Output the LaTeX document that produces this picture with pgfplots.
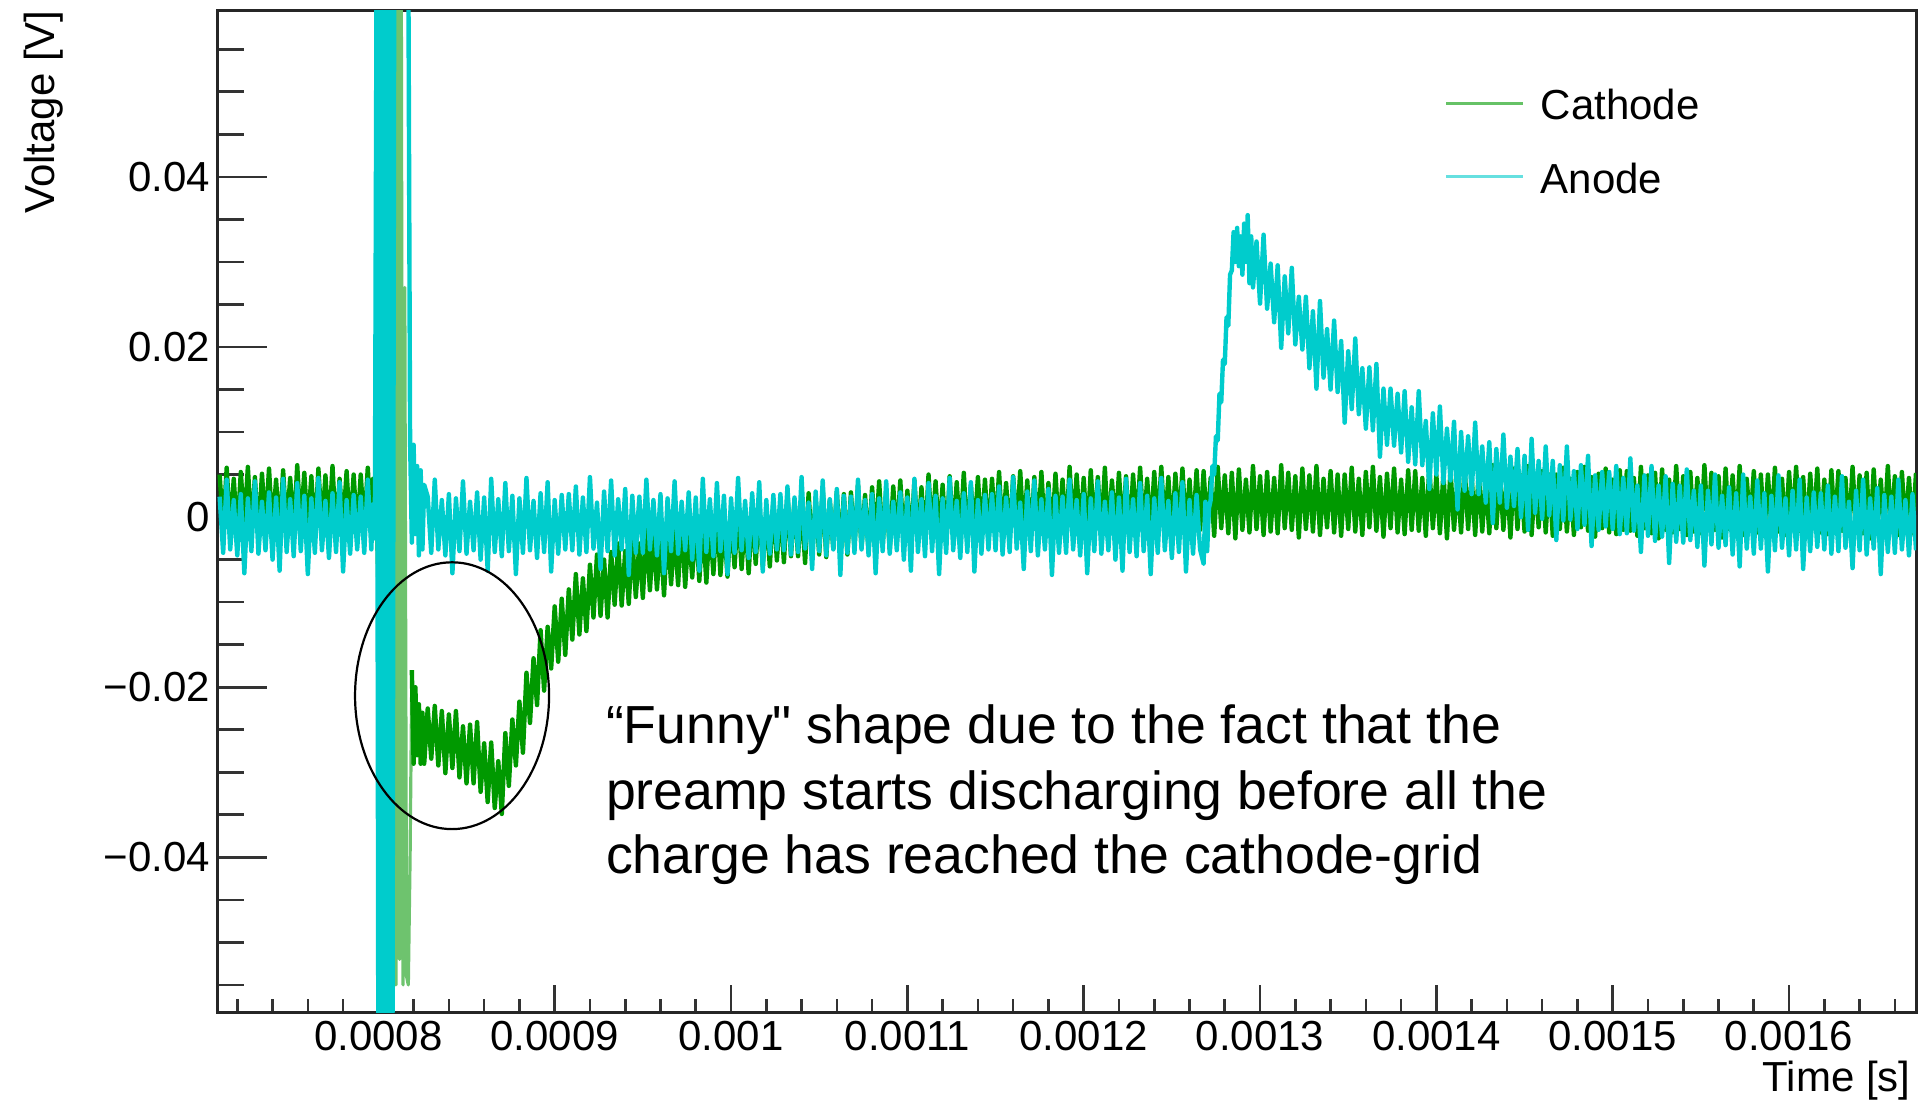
\documentclass[border=0pt]{standalone}
\usepackage{fontspec}
\setmainfont{Liberation Sans}
\newfontfamily\annfam{Liberation Sans}
\usepackage{pgfplots}
\pgfplotsset{compat=1.18}
\definecolor{cath}{RGB}{0,153,0}
\definecolor{cathL}{RGB}{110,195,110}
\definecolor{anod}{RGB}{0,204,204}
\newcommand{\tickfont}{\fontsize{21}{25}\selectfont}
\newcommand{\annfont}{\annfam\fontsize{26.8}{32}\selectfont}
\begin{document}
\begin{tikzpicture}
% y ticks axis (drawn first, below data)
\begin{axis}[scale only axis, width=849.5pt, height=501pt,
  xmin=708.5, xmax=1672, ymin=-58.3, ymax=59.5,
  axis line style={draw=none},
  tick align=inside, tick pos=left,
  xtick=\empty,
  ytick={-40,-20,0,20,40},
  yticklabels={−0.04,−0.02,0,0.02,0.04},
  minor ytick={-55,-50,...,55},
  major tick length=25pt, minor tick length=13.5pt,
  tick style={line width=1.3pt, black!80},
  yticklabel style={font=\tickfont},
]
\end{axis}
\begin{axis}[name=ax, scale only axis, width=849.5pt, height=501pt,
  xmin=708.5, xmax=1672, ymin=-58.3, ymax=59.5,
  axis line style={line width=1.5pt, black!85},
  tick align=inside, tick pos=left,
  xtick={800,900,...,1600},
  xticklabels={0.0008,0.0009,0.001,0.0011,0.0012,0.0013,0.0014,0.0015,0.0016},
  minor xtick={720,740,...,1660},
  ytick=\empty,
  major tick length=14pt, minor tick length=7pt,
  tick style={line width=1.3pt, black!80},
  xticklabel style={font=\tickfont, yshift=-0.5pt},
  legend style={draw=none, fill=none, at={(rel axis cs:0.7228,1)}, anchor=north west,
    yshift=-39.5pt, inner sep=0pt, outer sep=0pt, row sep=21.7pt, column sep=8.2pt,
    font=\tickfont, nodes={inner sep=0pt, text height=15pt, text depth=0pt}, cells={anchor=west}},
  legend image code/.code={\draw[#1, line width=1.4pt, opacity=0.6] (0pt,0.85pt) -- (38.3pt,0.85pt);},
]
% Cathode, before the spike
\addplot[cath, line width=2.2pt, line join=round] coordinates {
(710,5.0)(712,-1.4)(714,5.8)(716,-1.7)(718,4.5)(720,-2.1)(722,5.3)(724,-1.2)(726,5.9)(728,-1.6)(730,4.7)(732,-2.3)(734,5.1)(736,-1.3)(738,5.7)(740,-1.8)(742,4.4)(744,-2.0)(746,5.5)(748,-1.5)
(750,4.6)(752,-1.9)(754,6.1)(756,-1.3)(758,5.2)(760,-1.5)(762,4.8)(764,-2.4)(766,5.7)(768,-1.4)(770,4.9)(772,-1.7)(774,6.0)(776,-2.1)(778,4.5)(780,-1.2)(782,5.4)(784,-1.8)(786,5.0)(788,-2.2)
(790,5.0)(792,-1.4)(794,5.8)(796,-1.7)(797,4.5)(798,-1.5)(799,3.0)(800,-8)
};
\addlegendentry{Cathode}
% Cathode, spike
\addplot[cathL, line width=1.6pt, line join=round, forget plot] coordinates {
(800,-8)(801,65)(802,10)(803,65)(804,-20)(805,65)(806,-5)(807,65)(808,-50)(809,65)(810,-55)(811,65)(812,-52)(813,65)(814,-55)(815,27)(816,-54)(817,-55)(818,-40)(819,-18)
};
% Cathode, after the spike
\addplot[cath, line width=2.2pt, line join=round, forget plot] coordinates {
(819,-18)(820,-29)(821,-20)(822,-28)(823,-22)(824,-29)(825,-23)(826,-29)
(828,-22.5)(830,-28.4)(832,-22.2)(834,-29.2)(836,-22.8)(838,-30.1)(840,-23.2)(842,-29.5)(844,-22.8)(846,-30.6)(848,-24.6)(850,-31.3)(852,-24.4)(854,-31.3)(856,-24.1)(858,-32.3)(860,-26.6)(862,-33.5)(864,-26.5)(866,-34.2)
(868,-28.7)(870,-34.9)(872,-25.4)(874,-31.6)(876,-23.8)(878,-29.2)(880,-21.7)(882,-27.7)(884,-18.3)(886,-24.2)(888,-16.6)(890,-22.1)(892,-13.3)(894,-20.4)(896,-12.9)(898,-17.8)(900,-10.5)(902,-17.0)(904,-9.6)(906,-16.2)
(908,-8.5)(910,-14.4)(912,-6.7)(914,-13.8)(916,-7.2)(918,-13.4)(920,-5.6)(922,-11.8)(924,-4.4)(926,-11.6)(928,-5.0)(930,-11.8)(932,-4.1)(934,-10.3)(936,-3.1)(938,-10.4)(940,-4.0)(942,-10.2)(944,-2.5)(946,-9.4)
(948,-3.1)(950,-9.5)(952,-1.3)(954,-8.6)(956,-1.9)(958,-8.5)(960,-2.1)(962,-9.2)(964,-0.9)(966,-7.9)(968,-1.5)(970,-8.0)(972,-0.2)(974,-8.2)(976,-1.5)(978,-7.1)(980,-0.4)(982,-7.5)(984,-0.6)(986,-7.7)
(988,-0.4)(990,-6.7)(992,0.6)(994,-6.8)(996,-0.5)(998,-7.0)(1000,0.5)(1002,-5.9)(1004,1.3)(1006,-6.1)(1008,0.3)(1010,-6.6)(1012,0.9)(1014,-5.5)(1016,1.7)(1018,-5.8)(1020,0.5)(1022,-5.8)(1024,1.8)(1026,-5.1)
(1028,1.1)(1030,-5.3)(1032,2.7)(1034,-4.6)(1036,2.0)(1038,-4.6)(1040,1.7)(1042,-5.4)(1044,2.8)(1046,-4.3)(1048,2.1)(1050,-4.4)(1052,3.3)(1054,-4.7)(1056,2.0)(1058,-3.7)(1060,3.0)(1062,-4.1)(1064,2.7)(1066,-4.4)
(1068,2.9)(1070,-3.5)(1072,3.8)(1074,-3.6)(1076,2.6)(1078,-3.9)(1080,3.5)(1082,-2.9)(1084,4.2)(1086,-3.2)(1088,3.1)(1090,-3.8)(1092,3.6)(1094,-2.8)(1096,4.3)(1098,-3.2)(1100,3.1)(1102,-3.3)(1104,4.3)(1106,-2.7)
(1108,3.5)(1110,-3.0)(1112,5.0)(1114,-2.3)(1116,4.2)(1118,-2.5)(1120,3.8)(1122,-3.3)(1124,4.8)(1126,-2.3)(1128,4.1)(1130,-2.5)(1132,5.2)(1134,-2.8)(1136,3.8)(1138,-1.9)(1140,4.7)(1142,-2.4)(1144,4.4)(1146,-2.8)
(1148,4.5)(1150,-1.9)(1152,5.3)(1154,-2.2)(1156,4.0)(1158,-2.6)(1160,4.8)(1162,-1.7)(1164,5.4)(1166,-2.1)(1168,4.3)(1170,-2.7)(1172,4.7)(1174,-1.7)(1176,5.3)(1178,-2.2)(1180,4.0)(1182,-2.4)(1184,5.1)(1186,-1.9)
(1188,4.4)(1190,-2.1)(1192,5.9)(1194,-1.5)(1196,5.0)(1198,-1.7)(1200,4.6)(1202,-2.6)(1204,5.5)(1206,-1.6)(1208,4.7)(1210,-1.9)(1212,5.8)(1214,-2.3)(1216,4.3)(1218,-1.4)(1220,5.2)(1222,-2.0)(1224,4.8)(1226,-2.4)
(1228,5.0)(1230,-1.4)(1232,5.8)(1234,-1.7)(1236,4.5)(1238,-2.1)(1240,5.3)(1242,-1.2)(1244,5.9)(1246,-1.6)(1248,4.7)(1250,-2.3)(1252,5.1)(1254,-1.3)(1256,5.7)(1258,-1.8)(1260,4.4)(1262,-2.0)(1264,5.5)(1266,-1.5)
(1268,5.4)(1270,-1.6)(1272,4.6)(1274,-2.2)(1276,5.9)(1278,-1.3)(1280,4.9)(1282,-1.9)(1284,5.2)(1286,-2.5)(1288,5.6)(1290,-1.5)(1292,4.4)(1294,-1.8)(1296,6.0)(1298,-1.4)(1300,4.8)(1302,-2.1)(1304,5.3)(1306,-1.7)
(1308,4.6)(1310,-1.9)(1312,6.1)(1314,-1.3)(1316,5.2)(1318,-1.5)(1320,4.8)(1322,-2.4)(1324,5.7)(1326,-1.4)(1328,4.9)(1330,-1.7)(1332,6.0)(1334,-2.1)(1336,4.5)(1338,-1.2)(1340,5.4)(1342,-1.8)(1344,5.0)(1346,-2.2)
(1348,5.0)(1350,-1.4)(1352,5.8)(1354,-1.7)(1356,4.5)(1358,-2.1)(1360,5.3)(1362,-1.2)(1364,5.9)(1366,-1.6)(1368,4.7)(1370,-2.3)(1372,5.1)(1374,-1.3)(1376,5.7)(1378,-1.8)(1380,4.4)(1382,-2.0)(1384,5.5)(1386,-1.5)
(1388,5.4)(1390,-1.6)(1392,4.6)(1394,-2.2)(1396,5.9)(1398,-1.3)(1400,4.9)(1402,-1.9)(1404,5.2)(1406,-2.5)(1408,5.6)(1410,-1.5)(1412,4.4)(1414,-1.8)(1416,6.0)(1418,-1.4)(1420,4.8)(1422,-2.1)(1424,5.3)(1426,-1.7)
(1428,4.6)(1430,-1.9)(1432,6.1)(1434,-1.3)(1436,5.2)(1438,-1.5)(1440,4.8)(1442,-2.4)(1444,5.7)(1446,-1.4)(1448,4.9)(1450,-1.7)(1452,6.0)(1454,-2.1)(1456,4.5)(1458,-1.2)(1460,5.4)(1462,-1.8)(1464,5.0)(1466,-2.2)
(1468,5.0)(1470,-1.4)(1472,5.8)(1474,-1.7)(1476,4.5)(1478,-2.1)(1480,5.3)(1482,-1.2)(1484,5.9)(1486,-1.6)(1488,4.7)(1490,-2.3)(1492,5.1)(1494,-1.3)(1496,5.7)(1498,-1.8)(1500,4.4)(1502,-2.0)(1504,5.5)(1506,-1.5)
(1508,5.4)(1510,-1.6)(1512,4.6)(1514,-2.2)(1516,5.9)(1518,-1.3)(1520,4.9)(1522,-1.9)(1524,5.2)(1526,-2.5)(1528,5.6)(1530,-1.5)(1532,4.4)(1534,-1.8)(1536,6.0)(1538,-1.4)(1540,4.8)(1542,-2.1)(1544,5.3)(1546,-1.7)
(1548,4.6)(1550,-1.9)(1552,6.1)(1554,-1.3)(1556,5.2)(1558,-1.5)(1560,4.8)(1562,-2.4)(1564,5.7)(1566,-1.4)(1568,4.9)(1570,-1.7)(1572,6.0)(1574,-2.1)(1576,4.5)(1578,-1.2)(1580,5.4)(1582,-1.8)(1584,5.0)(1586,-2.2)
(1588,5.0)(1590,-1.4)(1592,5.8)(1594,-1.7)(1596,4.5)(1598,-2.1)(1600,5.3)(1602,-1.2)(1604,5.9)(1606,-1.6)(1608,4.7)(1610,-2.3)(1612,5.1)(1614,-1.3)(1616,5.7)(1618,-1.8)(1620,4.4)(1622,-2.0)(1624,5.5)(1626,-1.5)
(1628,5.4)(1630,-1.6)(1632,4.6)(1634,-2.2)(1636,5.9)(1638,-1.3)(1640,4.9)(1642,-1.9)(1644,5.2)(1646,-2.5)(1648,5.6)(1650,-1.5)(1652,4.4)(1654,-1.8)(1656,6.0)(1658,-1.4)(1660,4.8)(1662,-2.1)(1664,5.3)(1666,-1.7)
(1668,4.6)(1670,-1.9)(1672,5.2)
};
% Anode
\addplot[anod, line width=2.2pt, line join=round] coordinates {
(710,2.4)(712,-4.2)(714,4.4)(716,-3.8)(718,2.0)(720,-4.5)(722,2.7)(724,-6.6)(726,2.2)(728,-4.0)(730,4.2)(732,-4.3)(734,1.8)(736,-3.9)(738,2.9)(740,-5.0)(742,2.3)(744,-6.3)(746,4.5)(748,-4.1)
(750,2.1)(752,-4.6)(754,4.0)(756,-4.0)(758,2.5)(760,-6.7)(762,2.2)(764,-4.2)(766,4.6)(768,-3.9)(770,1.9)(772,-4.8)(774,2.8)(776,-4.1)(778,4.1)(780,-6.4)(782,2.0)(784,-4.3)(786,2.6)(788,-3.8)
(790,2.4)(792,-4.2)(794,4.4)(796,-3.8)
(797,1.5)(798,-2.5)(799,65)(800,-65)(801,65)(802,-65)(803,65)(804,-65)(805,65)(806,-65)(807,65)(808,-65)(809,65)(810,66)(817,66)(818,9)(819,-3)(820,8.5)(821,-2)(822,6)(823,-4.5)(824,5.5)(825,-3.8)(826,3.8)
(828,2.4)(830,-4.2)(832,4.4)(834,-3.8)(836,2.0)(838,-4.5)(840,2.7)(842,-6.6)(844,2.2)(846,-4.0)(848,4.2)(850,-4.3)(852,1.8)(854,-3.9)(856,2.9)(858,-5.0)(860,2.3)(862,-6.3)(864,4.5)(866,-4.1)
(868,2.1)(870,-4.6)(872,4.0)(874,-4.0)(876,2.5)(878,-6.7)(880,2.2)(882,-4.2)(884,4.6)(886,-3.9)(888,1.9)(890,-4.8)(892,2.8)(894,-4.1)(896,4.1)(898,-6.4)(900,2.0)(902,-4.3)(904,2.6)(906,-3.8)
(908,2.7)(910,-3.9)(912,3.6)(914,-4.4)(916,2.3)(918,-4.1)(920,4.7)(922,-3.7)(924,1.7)(926,-6.1)(928,3.0)(930,-4.0)(932,4.3)(934,-4.5)(936,2.1)(938,-3.8)(940,3.3)(942,-6.8)(944,2.5)(946,-4.2)
(948,2.4)(950,-4.2)(952,4.4)(954,-3.8)(956,2.0)(958,-4.5)(960,2.7)(962,-6.6)(964,2.2)(966,-4.0)(968,4.2)(970,-4.3)(972,1.8)(974,-3.9)(976,2.9)(978,-5.0)(980,2.3)(982,-6.3)(984,4.5)(986,-4.1)
(988,2.1)(990,-4.6)(992,4.0)(994,-4.0)(996,2.5)(998,-6.7)(1000,2.2)(1002,-4.2)(1004,4.6)(1006,-3.9)(1008,1.9)(1010,-4.8)(1012,2.8)(1014,-4.1)(1016,4.1)(1018,-6.4)(1020,2.0)(1022,-4.3)(1024,2.6)(1026,-3.8)
(1028,2.7)(1030,-3.9)(1032,3.6)(1034,-4.4)(1036,2.3)(1038,-4.1)(1040,4.7)(1042,-3.7)(1044,1.7)(1046,-6.1)(1048,3.0)(1050,-4.0)(1052,4.3)(1054,-4.5)(1056,2.1)(1058,-3.8)(1060,3.3)(1062,-6.8)(1064,2.5)(1066,-4.2)
(1068,2.4)(1070,-4.2)(1072,4.4)(1074,-3.8)(1076,2.0)(1078,-4.5)(1080,2.7)(1082,-6.6)(1084,2.2)(1086,-4.0)(1088,4.2)(1090,-4.3)(1092,1.8)(1094,-3.9)(1096,2.9)(1098,-5.0)(1100,2.3)(1102,-6.3)(1104,4.5)(1106,-4.1)
(1108,2.1)(1110,-4.6)(1112,4.0)(1114,-4.0)(1116,2.5)(1118,-6.7)(1120,2.2)(1122,-4.2)(1124,4.6)(1126,-3.9)(1128,1.9)(1130,-4.8)(1132,2.8)(1134,-4.1)(1136,4.1)(1138,-6.4)(1140,2.0)(1142,-4.3)(1144,2.6)(1146,-3.8)
(1148,2.7)(1150,-3.9)(1152,3.6)(1154,-4.4)(1156,2.3)(1158,-4.1)(1160,4.7)(1162,-3.7)(1164,1.7)(1166,-6.1)(1168,3.0)(1170,-4.0)(1172,4.3)(1174,-4.5)(1176,2.1)(1178,-3.8)(1180,3.3)(1182,-6.8)(1184,2.5)(1186,-4.2)
(1188,2.4)(1190,-4.2)(1192,4.4)(1194,-3.8)(1196,2.0)(1198,-4.5)(1200,2.7)(1202,-6.6)(1204,2.2)(1206,-4.0)(1208,4.2)(1210,-4.3)(1212,1.8)(1214,-3.9)(1216,2.9)(1218,-5.0)(1220,2.3)(1222,-6.3)(1224,4.5)(1226,-4.1)
(1228,2.1)(1230,-4.6)(1232,4.0)(1234,-4.0)(1236,2.5)(1238,-6.7)(1240,2.2)(1242,-4.2)(1244,4.6)(1246,-3.9)(1248,1.9)(1250,-4.8)(1252,2.8)(1254,-4.1)(1256,4.1)(1258,-6.4)(1260,2.0)(1262,-4.3)(1264,2.6)(1266,-3.8)
(1268,-5.5)(1269,1.8)(1270,-4.0)(1271,1.0)(1272,2.0)(1273,6.0)(1274,5.0)(1275,9.5)(1276,9.0)(1277,14.5)(1278,13.5)(1279,18.5)(1280,18.0)(1281,23.5)(1282,22.5)(1283,28.5)(1284,29.0)(1285,33.5)(1286,30.0)(1287,34.0)(1288,29.5)(1289,33.0)(1290,28.5)(1291,34.5)(1292,30.0)(1293,35.5)(1294,27.5)(1295,33.0)(1296,27.0)
(1298,32.4)(1300,25.1)(1302,33.2)(1304,24.5)(1306,29.8)(1308,22.9)(1310,29.6)(1312,19.9)(1314,28.3)(1316,21.6)(1318,29.3)(1320,20.3)(1322,25.9)(1324,19.7)(1326,25.9)(1328,17.5)(1330,24.2)(1332,15.1)(1334,25.4)(1336,16.4)
(1338,22.1)(1340,15.0)(1342,23.1)(1344,14.7)(1346,20.7)(1348,11.1)(1350,19.5)(1352,12.7)(1354,21.0)(1356,12.1)(1358,17.5)(1360,10.4)(1362,17.6)(1364,10.2)(1366,18.0)(1368,7.1)(1370,15.1)(1372,8.5)(1374,15.1)(1376,8.4)
(1378,14.5)(1380,7.6)(1382,14.8)(1384,6.5)(1386,12.9)(1388,6.2)(1390,14.8)(1392,6.1)(1394,11.3)(1396,3.3)(1398,12.2)(1400,5.0)(1402,13.0)(1404,4.0)(1406,10.4)(1408,4.3)(1410,11.2)(1412,0.9)(1414,10.0)(1416,3.1)
(1418,9.5)(1420,2.7)(1422,11.1)(1424,2.7)(1426,8.3)(1428,1.7)(1430,8.8)(1432,-0.7)(1434,8.0)(1436,1.7)(1438,9.7)(1440,1.1)(1442,7.1)(1444,1.3)(1446,8.0)(1448,0.0)(1450,7.2)(1452,-1.5)(1454,9.2)(1456,0.5)
(1458,6.6)(1460,-0.2)(1462,8.3)(1464,0.2)(1466,6.6)(1468,-2.7)(1470,6.1)(1472,-0.4)(1474,8.3)(1476,-0.3)(1478,5.4)(1480,-1.4)(1482,6.1)(1484,-0.9)(1486,7.2)(1488,-3.4)(1490,4.9)(1492,-1.5)(1494,5.3)(1496,-1.1)
(1498,5.3)(1500,-1.4)(1502,6.0)(1504,-2.0)(1506,4.6)(1508,-1.9)(1510,6.9)(1512,-1.6)(1514,3.7)(1516,-4.1)(1518,4.9)(1520,-2.2)(1522,6.0)(1524,-2.8)(1526,3.7)(1528,-2.3)(1530,4.8)(1532,-5.4)(1534,3.9)(1536,-2.9)
(1538,3.7)(1540,-3.0)(1542,5.6)(1544,-2.7)(1546,3.1)(1548,-3.5)(1550,3.7)(1552,-5.7)(1554,3.1)(1556,-3.2)(1558,5.0)(1560,-3.6)(1562,2.5)(1564,-3.3)(1566,3.5)(1568,-4.4)(1570,2.8)(1572,-5.8)(1574,5.0)(1576,-3.7)
(1578,2.4)(1580,-4.3)(1582,4.3)(1584,-3.7)(1586,2.8)(1588,-6.4)(1590,2.5)(1592,-3.9)(1594,4.9)(1596,-3.6)(1598,2.2)(1600,-4.5)(1602,3.1)(1604,-3.8)(1606,4.4)(1608,-6.1)(1610,2.3)(1612,-4.0)(1614,2.9)(1616,-3.5)
(1618,2.8)(1620,-3.8)(1622,3.7)(1624,-4.3)(1626,2.4)(1628,-4.0)(1630,4.8)(1632,-3.6)(1634,1.8)(1636,-6.0)(1638,3.1)(1640,-3.9)(1642,4.4)(1644,-4.4)(1646,2.2)(1648,-3.7)(1650,3.4)(1652,-6.7)(1654,2.6)(1656,-4.1)
(1658,2.4)(1660,-4.2)(1662,4.4)(1664,-3.8)(1666,2.0)(1668,-4.5)(1670,2.7)(1672,-3.9)
};
\addlegendentry{Anode}
\draw[line width=1.1pt, black] (axis cs:841.8,-21.0) ellipse [x radius=48.5pt, y radius=66.7pt];
\node[anchor=base west, inner sep=0pt, font=\annfont] at (axis cs:928.9,-26.67) {“Funny" shape due to the fact that the};
\node[anchor=base west, inner sep=0pt, font=\annfont] at (axis cs:928.9,-34.32) {preamp starts discharging before all the};
\node[anchor=base west, inner sep=0pt, font=\annfont] at (axis cs:928.9,-41.96) {charge has reached the cathode-grid};
\end{axis}
\node[rotate=90, anchor=east, inner sep=0pt, font=\tickfont] at ([shift={(-86.5pt,0.5pt)}]ax.north west) {Voltage [V]};
\node[anchor=base east, inner sep=0pt, font=\tickfont] at ([shift={(-2.5pt,-39.3pt)}]ax.south east) {Time [s]};
\pgfresetboundingbox
\path[use as bounding box] ([shift={(-108.5pt,-45.5pt)}]ax.south west) rectangle ([shift={(3pt,5.5pt)}]ax.north east);
\end{tikzpicture}
\end{document}
